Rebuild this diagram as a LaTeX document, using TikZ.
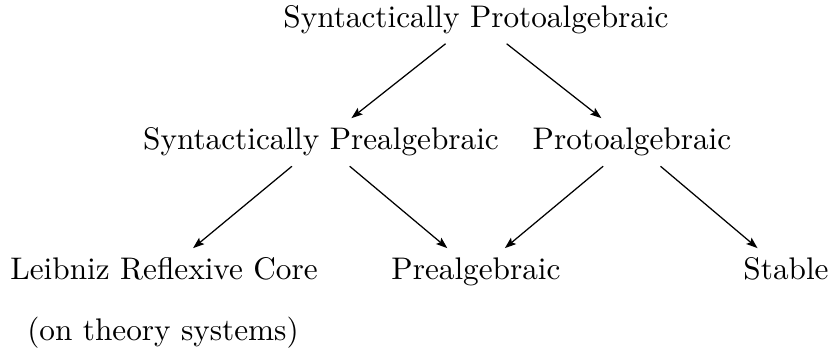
\documentclass[tikz,border=0pt]{standalone}
\usetikzlibrary{arrows.meta}
\begin{document}
\begin{tikzpicture}[x=0.32pt,y=-0.32pt,
  lbl/.style={anchor=base,inner xsep=3pt,inner ysep=3pt,text height=7pt,text depth=2pt,font=\fontsize{10}{12}\selectfont},
  arr/.style={line width=0.4pt,-{Stealth[length=3.6pt,width=2.6pt,inset=0.7pt]}}]
\useasboundingbox (0,0) rectangle (830,352);
\node[lbl] (top) at (476,27.5) {Syntactically Protoalgebraic};
\node[lbl] (sp) at (321,150) {Syntactically Prealgebraic};
\node[lbl] (proto) at (632,150) {Protoalgebraic};
\node[lbl] (lrc) at (164,280) {Leibniz Reflexive Core};
\node[lbl] (pre) at (476,280) {Prealgebraic};
\node[lbl] (stable) at (786,280) {Stable};
\node[lbl] (note) at (163,340) {(on theory systems)};
\draw[arr] (top) -- (sp);
\draw[arr] (top) -- (proto);
\draw[arr] (sp) -- (lrc);
\draw[arr] (sp) -- (pre);
\draw[arr] (proto) -- (pre);
\draw[arr] (proto) -- (stable);
\end{tikzpicture}
\end{document}
